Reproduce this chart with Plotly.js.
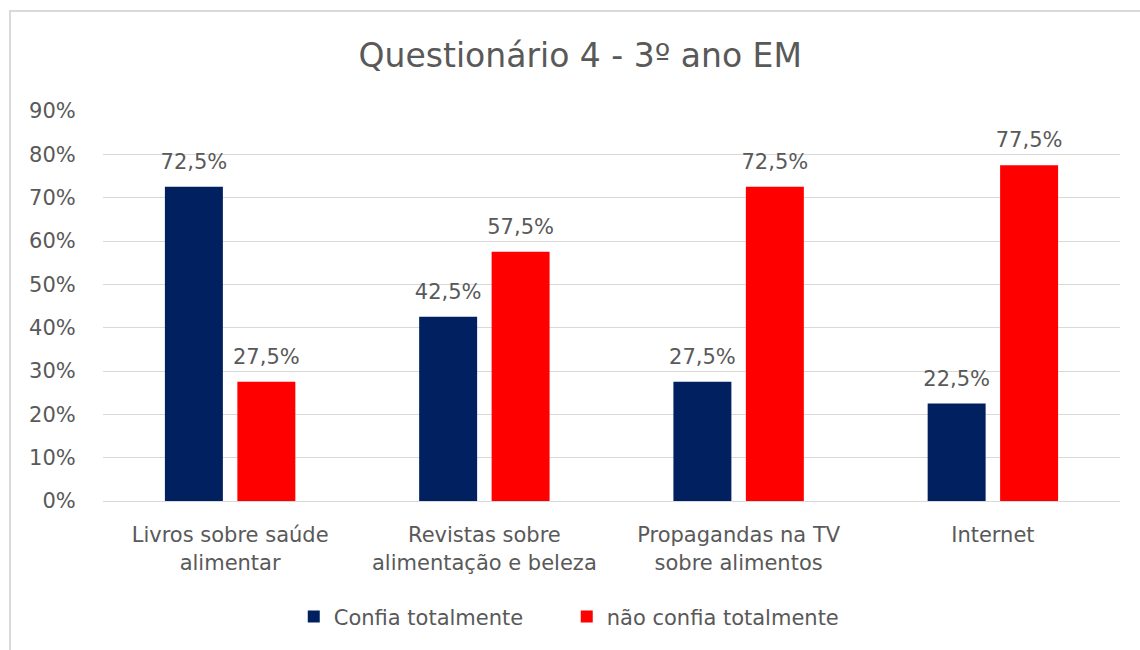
<!DOCTYPE html>
<html>
<head>
<meta charset="utf-8">
<script src="https://cdn.plot.ly/plotly-3.0.1.min.js"></script>
<style>
  html, body { margin:0; padding:0; background:#fff; overflow:hidden; }
  #frame { position:absolute; left:9px; top:10px; width:1200px; height:700px; border:2px solid #d9d9d9; box-sizing:border-box; }
  #chart { position:absolute; left:0; top:0; width:1140px; height:650px; }
</style>
</head>
<body>
<div id="frame"></div>
<div id="chart"></div>
<script>
const categories = [
  "Livros sobre saúde<br>alimentar",
  "Revistas sobre<br>alimentação e beleza",
  "Propagandas na TV<br>sobre alimentos",
  "Internet"
];
const seriesNames = ["Confia totalmente", "não confia totalmente"];
const confiaTotalmente = [72.5, 42.5, 27.5, 22.5];
const naoConfiaTotalmente = [27.5, 57.5, 72.5, 77.5];
const yTickValues = [0, 10, 20, 30, 40, 50, 60, 70, 80, 90];
const yTickLabels = ["0%", "10%", "20%", "30%", "40%", "50%", "60%", "70%", "80%", "90%"];

const FONT = "DejaVu Sans, Verdana, sans-serif";
const GRAY = "#595959";
// label: large first line, small spacer line below lifts it above the bar
const LABEL_TEMPLATE = "<span style='font-size:21px'>%{y:.1f}%</span><br>\u00A0";

const traces = [
  {
    type: "bar", name: seriesNames[0], x: categories, y: confiaTotalmente,
    marker: { color: "#002060" },
    texttemplate: LABEL_TEMPLATE, textposition: "outside", cliponaxis: false,
    constraintext: "none",
    textfont: { family: FONT, size: 10, color: GRAY },
    hoverinfo: "none"
  },
  {
    type: "bar", name: seriesNames[1], x: categories, y: naoConfiaTotalmente,
    marker: { color: "#FF0000" },
    texttemplate: LABEL_TEMPLATE, textposition: "outside", cliponaxis: false,
    constraintext: "none",
    textfont: { family: FONT, size: 10, color: GRAY },
    hoverinfo: "none"
  }
];

const layout = {
  width: 1140, height: 650,
  paper_bgcolor: "rgba(0,0,0,0)", plot_bgcolor: "rgba(0,0,0,0)",
  margin: { l: 103, r: 20, t: 111, b: 149 },
  separators: ",.",
  font: { family: FONT, color: GRAY, size: 21 },
  title: {
    text: "Questionário 4 - 3º ano EM",
    font: { family: FONT, size: 33, color: GRAY },
    xref: "container", x: 0.509, xanchor: "center",
    yref: "container", y: 1 - 55/650, yanchor: "middle"
  },
  barmode: "group", bargap: 0.43, bargroupgap: 0.2,
  xaxis: {
    type: "category",
    tickfont: { family: FONT, size: 21, color: GRAY },
    ticks: "outside", ticklen: 15, tickcolor: "rgba(0,0,0,0)",
    showline: true, linecolor: "#d9d9d9", linewidth: 1,
    showgrid: false, zeroline: false
  },
  yaxis: {
    range: [0, 90], tickmode: "array", tickvals: yTickValues, ticktext: yTickLabels,
    tickfont: { family: FONT, size: 21, color: GRAY },
    showgrid: true, gridcolor: "#d9d9d9", gridwidth: 1,
    zeroline: false, showline: false,
    ticks: "outside", ticklen: 22, tickcolor: "rgba(0,0,0,0)"
  },
  showlegend: true,
  legend: {
    orientation: "h", xanchor: "center", x: 0.456,
    yanchor: "middle", y: -0.297,
    font: { family: FONT, size: 21, color: GRAY },
    itemwidth: 30, traceorder: "normal", entrywidth: 228
  }
};

Plotly.newPlot("chart", traces, layout, { displayModeBar: false, staticPlot: true });
</script>
</body>
</html>
